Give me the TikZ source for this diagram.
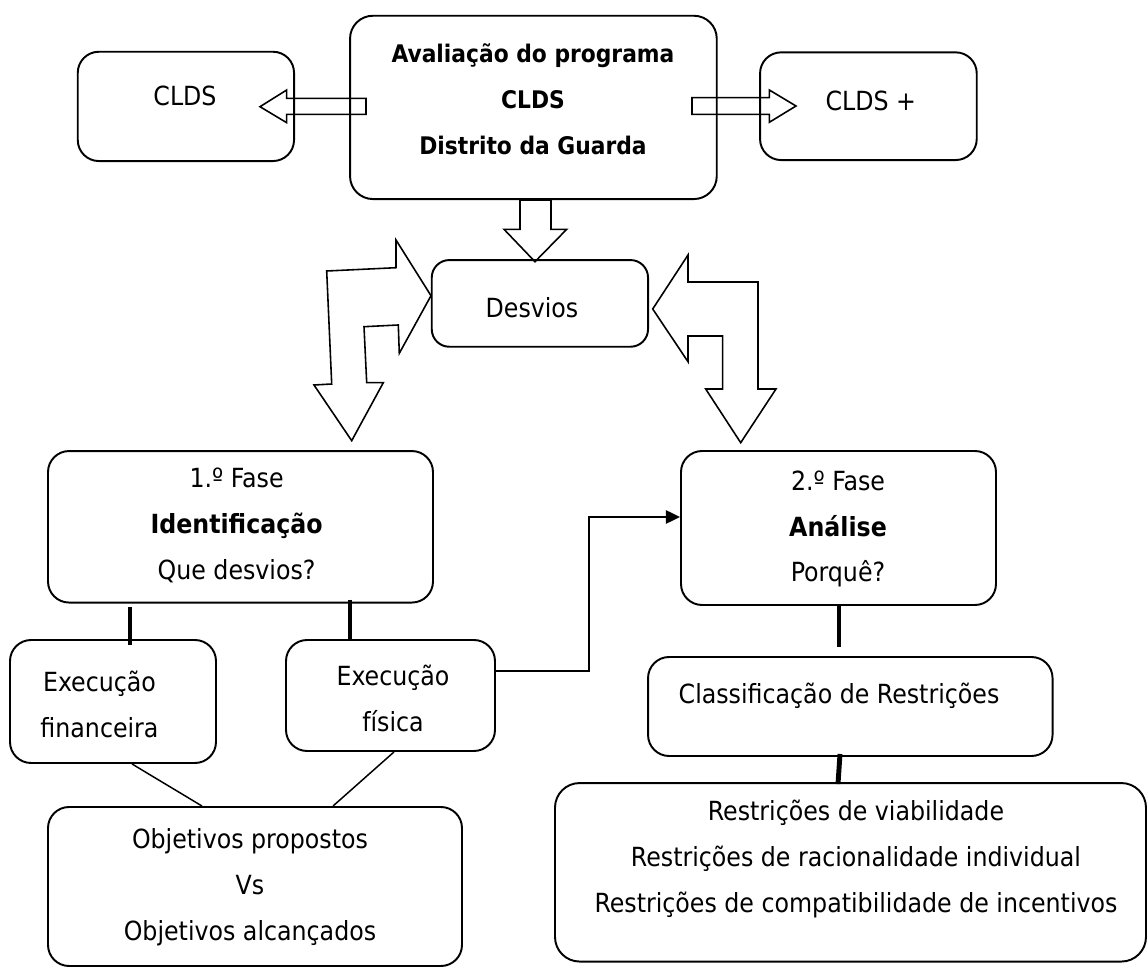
\documentclass[tikz,border=0pt]{standalone}
\usepackage{fontspec}
\setmainfont{DejaVu Sans Condensed}
\usetikzlibrary{arrows.meta,calc}
\newdimen\px \px=0.02cm
\begin{document}
\begin{tikzpicture}[x=0.02cm,y=-0.02cm,
  font=\fontsize{15}{26.1}\selectfont,
  box/.style={draw, line width=1.1pt, rounded corners=12pt, inner sep=0pt},
  txt/.style={align=center, inner sep=0pt},
  blockarrow/.style={draw, fill=white, line width=0.9pt, line join=miter},
  link/.style={line width=2.8pt},
  thinlink/.style={line width=0.85pt},
  elbow/.style={line width=1.1pt, -{Triangle[length=8pt,width=7.5pt]}}]
\useasboundingbox (0,0) rectangle (1147,969);

% block arrows (drawn first, boxes on top)
\draw[blockarrow] (366,98.3) -- (286.7,98.3) -- (286.7,90) -- (260,106.7) -- (286.7,122.7) -- (286.7,114.3) -- (366,114.3) -- cycle;
\draw[blockarrow] (692,97.7) -- (769.3,97.7) -- (769.3,90) -- (796,106) -- (769.3,122.3) -- (769.3,114.3) -- (692,114.3) -- cycle;
\draw[blockarrow] (520,200) -- (551,200) -- (551,229.3) -- (566.7,229.3) -- (535,261.7) -- (504,229.3) -- (520,229.3) -- cycle;
\draw[blockarrow] (431,295.7) -- (399.3,353.3) -- (398.3,325) -- (364,326.7) -- (366.7,382.7) -- (383.3,382.7) -- (351.7,440.7) -- (314,385) -- (331.7,384) -- (326.7,271) -- (396,267.7) -- (396,240) -- cycle;
\draw[blockarrow] (652.7,309) -- (688,255) -- (688,282) -- (758,282) -- (758,389) -- (776,389) -- (740.7,442.7) -- (705.7,389) -- (722.7,389) -- (722.7,336) -- (688,336) -- (688,361.7) -- cycle;

% boxes
\node[box, minimum width=216.3\px, minimum height=109.3\px] (cldsL) at (185.9,106.4) {};
\node[box, rounded corners=13pt, minimum width=366.7\px, minimum height=183.3\px] (main) at (533.4,107.4) {};
\node[box, minimum width=216.7\px, minimum height=107.7\px] (cldsR) at (868.4,106.2) {};
\node[box, rounded corners=10pt, minimum width=216.3\px, minimum height=86.7\px] (desvios) at (539.9,303.4) {};
\node[box, minimum width=385\px, minimum height=151.5\px] (fase1) at (240.5,526.8) {};
\node[box, minimum width=206\px, minimum height=123\px] (fin) at (113,701.5) {};
\node[box, minimum width=209\px, minimum height=111\px] (fis) at (390.5,695.5) {};
\node[box, minimum width=414\px, minimum height=159\px] (obj) at (255,886.5) {};
\node[box, minimum width=315\px, minimum height=154\px] (fase2) at (838.5,528) {};
\node[box, minimum width=404.5\px, minimum height=99\px] (classif) at (850.3,706.5) {};
\node[box, rounded corners=14pt, minimum width=591\px, minimum height=178.5\px] (restr) at (850.5,872.3) {};

% texts
\node[txt] (t-cldsL) at (185,96) {CLDS};
\node[txt, font=\fontsize{13.8}{26.1}\selectfont\bfseries] (t-main) at (533,99) {Avaliação do programa\\CLDS\\Distrito da Guarda};
\node[txt] (t-cldsR) at (870.8,100.7) {CLDS +};
\node[txt] (t-desvios) at (532,308) {Desvios};
\node[txt] (t-fase1) at (236.6,525.5) {1.º Fase\\\textbf{Identificação}\\Que desvios?};
\node[txt] (t-fin) at (99.5,704.5) {Execução\\financeira};
\node[txt] (t-fis) at (393,698.5) {Execução\\física};
\node[txt] (t-obj) at (250,887) {Objetivos propostos\\Vs\\Objetivos alcançados};
\node[txt] (t-fase2) at (838,529) {2.º Fase\\\textbf{Análise}\\Porquê?};
\node[txt] (t-classif) at (839,696) {Classificação de Restrições};
\node[txt] (t-restr) at (856,859) {Restrições de viabilidade\\Restrições de racionalidade individual\\Restrições de compatibilidade de incentivos};

% connectors
\coordinate (xa) at (130,0);
\coordinate (xb) at (350,0);
\coordinate (xc) at (839,0);
\coordinate (xd) at (840,0);
\coordinate (xe) at (838,0);
\draw[link] ($(fase1.south -| xa)+(0,3)$) -- ($(fin.north -| xa)+(0,6)$);
\draw[link] ($(fase1.south -| xb)+(0,-4)$) -- (fis.north -| xb);
\draw[link] ($(fase2.south -| xc)+(0,-2)$) -- ($(classif.north -| xc)+(0,-9.5)$);
\draw[link] ($(classif.south -| xd)+(0,-3)$) -- ($(restr.north -| xe)+(0,2)$);

\coordinate (t1) at (132,0);
\coordinate (t2) at (202,0);
\coordinate (t3) at (394,0);
\coordinate (t4) at (333,0);
\draw[thinlink] (fin.south -| t1) -- (obj.north -| t2);
\draw[thinlink] (fis.south -| t3) -- (obj.north -| t4);

\coordinate (e1) at (589,670.7);
\coordinate (e2) at (589,517);
\draw[elbow] (fis.east |- e1) -- (e1) -- (e2) -- (fase2.west |- e2);
\end{tikzpicture}
\end{document}
